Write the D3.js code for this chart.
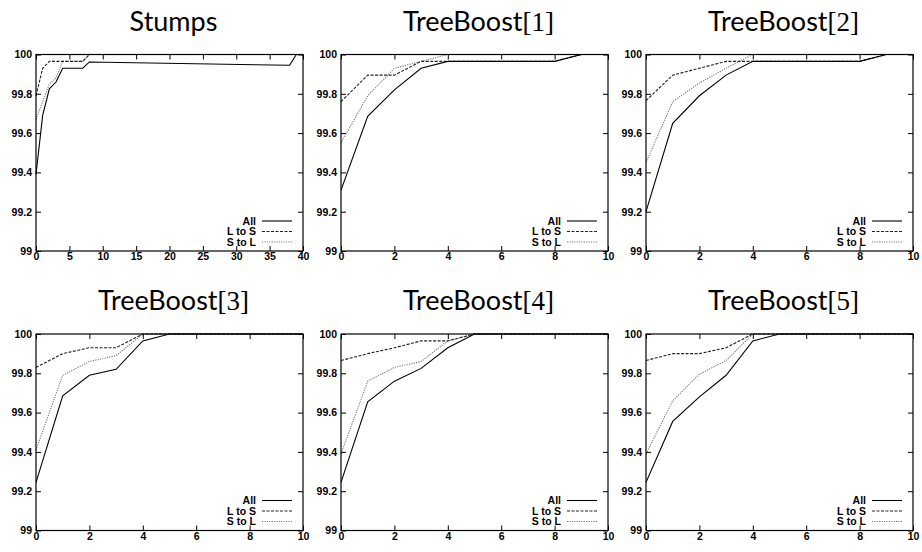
<!DOCTYPE html>
<html>
<head>
<meta charset="utf-8">
<script src="https://cdn.jsdelivr.net/npm/d3@7"></script>
<style>
  body { margin: 0; background: #fff; }
  svg { display: block; }
  .tick text { font-family: "Liberation Sans", Arial, sans-serif; font-weight: bold; font-size: 10.5px; fill: #000; }
  .legendText { font-family: "Liberation Sans", Arial, sans-serif; font-weight: bold; font-size: 10.5px; }
  .title { font-family: Lato, "DejaVu Sans", sans-serif; font-size: 27px; }
</style>
</head>
<body>
<script>
// panel titles
var titleNames = ["Stumps", "TreeBoost", "TreeBoost", "TreeBoost", "TreeBoost", "TreeBoost"];
var titleIndex = ["", "[1]", "[2]", "[3]", "[4]", "[5]"];

// iterations (x values)
var stumpsX = [0, 1, 2, 3, 4, 5, 6, 7, 8, 38, 39, 40];
var boostX = [0, 1, 2, 3, 4, 5, 6, 7, 8, 9, 10];

// accuracy (%) per panel
var valuesAll = [
  [99.39, 99.69, 99.825, 99.86, 99.93, 99.93, 99.93, 99.93, 99.962, 99.945, 100, 100],
  [99.31, 99.685, 99.82, 99.93, 99.965, 99.965, 99.965, 99.965, 99.965, 100, 100],
  [99.2, 99.65, 99.79, 99.895, 99.965, 99.965, 99.965, 99.965, 99.965, 100, 100],
  [99.245, 99.685, 99.79, 99.82, 99.965, 100, 100, 100, 100, 100, 100],
  [99.245, 99.655, 99.76, 99.825, 99.93, 100, 100, 100, 100, 100, 100],
  [99.245, 99.555, 99.68, 99.79, 99.965, 100, 100, 100, 100, 100, 100]
];
var valuesLtoS = [
  [99.79, 99.93, 99.965, 99.965, 99.965, 99.965, 99.965, 99.965, 100, 100, 100, 100],
  [99.76, 99.895, 99.895, 99.965, 99.965, 99.965, 99.965, 99.965, 99.965, 100, 100],
  [99.765, 99.895, 99.93, 99.965, 99.965, 99.965, 99.965, 99.965, 99.965, 100, 100],
  [99.83, 99.9, 99.93, 99.93, 100, 100, 100, 100, 100, 100, 100],
  [99.865, 99.9, 99.93, 99.965, 99.965, 100, 100, 100, 100, 100, 100],
  [99.865, 99.9, 99.9, 99.93, 100, 100, 100, 100, 100, 100, 100]
];
var valuesStoL = [
  [99.67, 99.76, 99.85, 99.88, 99.965, 99.965, 99.965, 99.965, 100, 100, 100, 100],
  [99.55, 99.79, 99.93, 99.965, 100, 100, 100, 100, 100, 100, 100],
  [99.45, 99.76, 99.855, 99.93, 100, 100, 100, 100, 100, 100, 100],
  [99.41, 99.79, 99.86, 99.89, 100, 100, 100, 100, 100, 100, 100],
  [99.39, 99.76, 99.83, 99.86, 99.965, 100, 100, 100, 100, 100, 100],
  [99.39, 99.66, 99.795, 99.865, 100, 100, 100, 100, 100, 100, 100]
];

var yTicks = [99, 99.2, 99.4, 99.6, 99.8, 100];
var stumpsTicks = [0, 5, 10, 15, 20, 25, 30, 35, 40];
var boostTicks = [0, 2, 4, 6, 8, 10];
var legendNames = ["All", "L to S", "S to L"];

var W = 922, H = 552;
var colLeft = [36, 341, 646];
var rowTop = [54.5, 334];
var pw = 267, ph = 196.5;

var styles = [
  { color: "#000", dash: null },
  { color: "#222", dash: "3,1.5" },
  { color: "#777", dash: "1.2,1.2" }
];

var svg = d3.select("body").append("svg")
  .attr("width", W)
  .attr("height", H);

function drawPanel(p) {
  var left = colLeft[p % 3], top = rowTop[Math.floor(p / 3)];
  var xs = p == 0 ? stumpsX : boostX;
  var x = d3.scaleLinear().domain([0, p == 0 ? 40 : 10]).range([0, pw]);
  var y = d3.scaleLinear().domain([99, 100]).range([ph, 0]);
  var xt = p == 0 ? stumpsTicks : boostTicks;

  var g = svg.append("g").attr("transform", "translate(" + left + "," + top + ")");

  // title
  var t = svg.append("text")
    .attr("class", "title")
    .attr("x", left + pw / 2 + 4)
    .attr("y", top - 24)
    .attr("text-anchor", "middle")
    .text(titleNames[p]);
  if (titleIndex[p]) {
    t.append("tspan")
      .attr("font-family", "'Liberation Serif', 'DejaVu Serif', serif")
      .text(titleIndex[p]);
  }

  // axes with inward ticks, mirrored on top / right
  g.append("g").attr("class", "axis")
    .call(d3.axisLeft(y).tickValues(yTicks).tickSize(-5).tickPadding(4).tickFormat(d3.format("~g")));
  g.append("g").attr("class", "axis")
    .attr("transform", "translate(" + pw + ",0)")
    .call(d3.axisRight(y).tickValues(yTicks).tickSize(-5).tickFormat(""));
  g.append("g").attr("class", "axis")
    .attr("transform", "translate(0," + ph + ")")
    .call(d3.axisBottom(x).tickValues(xt).tickSize(-5).tickPadding(2).tickFormat(d3.format("d")));
  g.append("g").attr("class", "axis")
    .call(d3.axisTop(x).tickValues(xt).tickSize(-5).tickFormat(""));
  g.selectAll(".axis .domain").remove();
  g.selectAll(".axis line").attr("stroke", "#000").attr("stroke-width", 1);

  var line = d3.line()
    .x(function (d) { return x(d[0]); })
    .y(function (d) { return y(d[1]); });

  var series = [valuesAll[p], valuesLtoS[p], valuesStoL[p]];
  // draw S to L first so the solid line sits on top
  [2, 1, 0].forEach(function (s) {
    var pts = xs.map(function (v, i) { return [v, series[s][i]]; });
    g.append("path")
      .datum(pts)
      .attr("fill", "none")
      .attr("stroke", styles[s].color)
      .attr("stroke-width", 1.1)
      .attr("stroke-dasharray", styles[s].dash)
      .attr("d", line);
  });

  // frame
  g.append("rect")
    .attr("width", pw)
    .attr("height", ph)
    .attr("fill", "none")
    .attr("stroke", "#000")
    .attr("stroke-width", 1.2);

  // legend
  var lg = g.selectAll(".legendRow")
    .data(legendNames)
    .enter()
    .append("g")
    .attr("class", "legendRow")
    .attr("transform", function (d, i) { return "translate(0," + (ph - 30 + i * 10.5) + ")"; });
  lg.append("text")
    .attr("class", "legendText")
    .attr("x", pw - 47)
    .attr("dy", "0.36em")
    .attr("text-anchor", "end")
    .text(function (d) { return d; });
  lg.append("line")
    .attr("x1", pw - 41)
    .attr("x2", pw - 11)
    .attr("stroke", function (d, i) { return styles[i].color; })
    .attr("stroke-width", 1.1)
    .attr("stroke-dasharray", function (d, i) { return styles[i].dash; });
}

for (var p = 0; p < 6; p++) drawPanel(p);
</script>
</body>
</html>
